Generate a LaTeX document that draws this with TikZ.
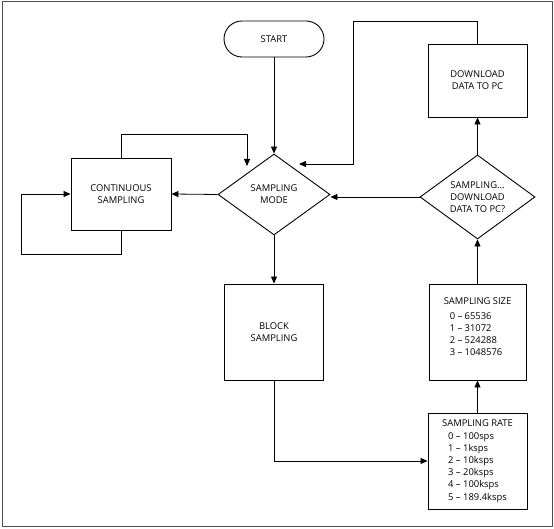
\documentclass[tikz,border=0pt]{standalone}
\usepackage{fontspec}
\setmainfont{Open Sans}
\usepackage{tikz}
\usetikzlibrary{positioning}
\usetikzlibrary{calc}
\usetikzlibrary{arrows.meta}
\usetikzlibrary{shapes.geometric}

\tikzset{
  txt/.style={font=\fontsize{9.4}{12.2}\selectfont, align=center},
  stepbox/.style={txt, draw, line width=0.9pt, inner sep=0pt},
  choice/.style={txt, draw, diamond, aspect=1.4, line width=0.9pt, inner sep=0pt},
  line/.style={line width=0.8pt, -{Triangle[length=7pt, width=6pt]}},
}

\begin{document}
\begin{tikzpicture}[x=1pt, y=1pt]
\useasboundingbox (0, 0) rectangle (554, 529);
\draw[line width=1pt, black!70] (2.5, 2.5) rectangle (552, 527);

% boxes
\node[stepbox, rounded corners=18pt, minimum width=100pt, minimum height=36pt] (start) at (274, 490) {START};
\node[choice, minimum width=112pt, minimum height=81pt] (mode) at (274, 334.5) {SAMPLING\\MODE};
\node[stepbox, minimum width=100pt, minimum height=72pt] (cont) at (121, 335) {CONTINUOUS\\SAMPLING};
\node[stepbox, minimum width=99pt, minimum height=96pt] (block) at (274, 197) {BLOCK\\SAMPLING};
\node[stepbox, minimum width=99pt, minimum height=96pt] (rate) at (477.5, 68) {%
  \begin{tabular}{@{}l@{}}
  \multicolumn{1}{@{}c@{}}{SAMPLING RATE}\\
  \hspace{6pt}0 -- 100sps\\
  \hspace{6pt}1 -- 1ksps\\
  \hspace{6pt}2 -- 10ksps\\
  \hspace{6pt}3 -- 20ksps\\
  \hspace{6pt}4 -- 100ksps\\
  \hspace{6pt}5 -- 189.4ksps
  \end{tabular}};
\node[stepbox, minimum width=97pt, minimum height=96pt] (size) at (477.5, 197) {%
  \begin{tabular}{@{}l@{}}
  \multicolumn{1}{@{}c@{}}{SAMPLING SIZE}\\[3pt]
  \hspace{6pt}0 -- 65536\\
  \hspace{6pt}1 -- 31072\\
  \hspace{6pt}2 -- 524288\\
  \hspace{6pt}3 -- 1048576\\[9pt]
  \end{tabular}};
\node[choice, minimum width=115pt, minimum height=84pt] (ques) at (477.5, 332) {SAMPLING...\\DOWNLOAD\\DATA TO PC?};
\node[stepbox, minimum width=99pt, minimum height=73pt] (down) at (477.5, 448.5) {DOWNLOAD\\DATA TO PC};

% loop ends
\coordinate (contloop) at (21, 275);
\coordinate (modein1) at (247, 363);
\coordinate (turn) at (353, 508);
\coordinate (modein2) at (299, 365);

% connectors
\draw[line] (start) -- (mode);
\draw[line] (mode.west) -- (cont.east);
\draw[line] (cont.south) |- (contloop) |- (cont.west);
\draw[line] (cont.north) -- ++(0, 23) -| (modein1);
\draw[line] (mode.south) -- (block.north);
\draw[line] (block.south) |- (rate.west);
\draw[line] (rate) -- (size);
\draw[line] (size) -- (ques);
\draw[line] (ques.west) -- (ques.west -| mode.east);
\draw[line] (ques) -- (down);
\draw[line] (down.north) |- (turn) |- (modein2);
\end{tikzpicture}
\end{document}
